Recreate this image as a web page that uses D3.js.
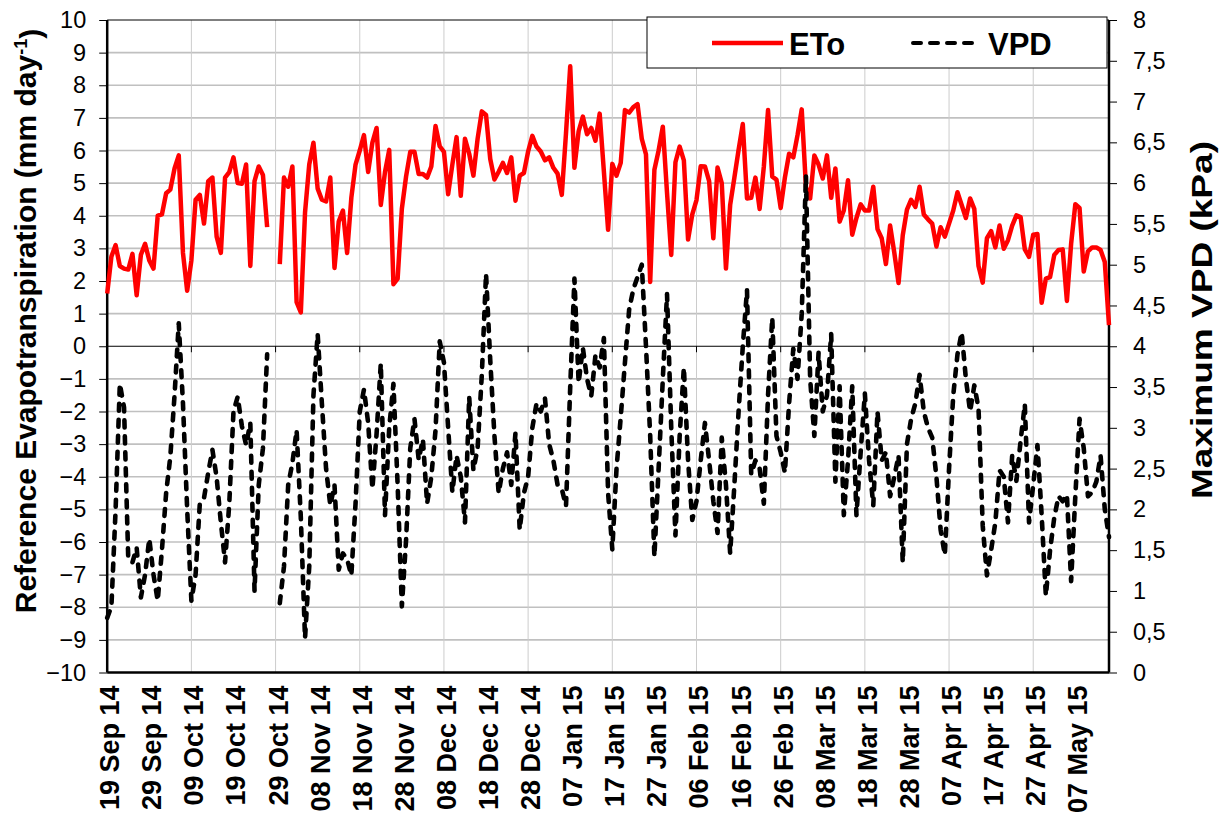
<!DOCTYPE html>
<html>
<head>
<meta charset="utf-8">
<script src="https://d3js.org/d3.v7.min.js"></script>
<style>
  body { margin: 0; background: #fff; }
  text { font-family: Arial, "Liberation Sans", sans-serif; }
</style>
</head>
<body>
<div id="chart"></div>
<script>
// daily series, first day 19 Sep 2014
var startDate = "19 Sep 14";

var eto = [
  1.62, 2.75, 3.1, 2.46, 2.38, 2.35, 2.83, 1.56, 2.8, 3.14,
  2.63, 2.38, 4.0, 4.04, 4.69, 4.8, 5.45, 5.85, 2.86, 1.7,
  2.63, 4.49, 4.64, 3.76, 5.06, 5.17, 3.36, 2.86, 5.17, 5.34,
  5.79, 5.0, 4.98, 5.57, 2.46, 5.06, 5.51, 5.25, 3.65, null,
  null, 2.52, 5.17, 4.89, 5.51, 1.35, 1.04, 4.1, 5.57, 6.24,
  4.83, 4.49, 4.44, 5.17, 2.4, 3.82, 4.16, 2.86, 4.55, 5.57,
  6.0, 6.47, 5.34, 6.24, 6.69, 4.33, 5.34, 6.02, 1.9, 2.07,
  4.21, 5.2, 5.96, 5.96, 5.28, 5.28, 5.17, 5.51, 6.75, 6.13,
  5.96, 4.66, 5.57, 6.41, 4.61, 6.36, 5.9, 5.23, 6.36, 7.2,
  7.09, 5.74, 5.11, 5.35, 5.62, 5.31, 5.79, 4.46, 5.23, 5.31,
  5.97, 6.45, 6.12, 5.97, 5.7, 5.79, 5.47, 5.29, 4.64, 6.53,
  8.58, 5.47, 6.59, 7.04, 6.5, 6.69, 6.3, 7.13, 5.35, 3.57,
  5.59, 5.23, 5.62, 7.24, 7.16, 7.33, 7.42, 6.36, 5.88, 1.97,
  5.41, 6.0, 6.73, 4.7, 2.8, 5.64, 6.12, 5.7, 3.27, 4.04,
  4.48, 5.52, 5.51, 5.06, 3.31, 5.48, 5.0, 2.38, 4.33, 5.17,
  6.02, 6.81, 4.53, 4.55, 5.17, 4.21, 5.51, 7.24, 5.2, 5.11,
  4.24, 5.17, 5.9, 5.79, 6.47, 7.26, 4.89, 4.53, 5.85, 5.57,
  5.14, 5.85, 4.55, 5.45, 3.82, 4.16, 5.09, 3.42, 3.93, 4.35,
  4.16, 4.16, 4.89, 3.59, 3.31, 2.52, 3.7, 2.86, 1.94, 3.4,
  4.19, 4.49, 4.27, 4.89, 4.04, 3.89, 3.76, 3.06, 3.65, 3.36,
  3.76, 4.16, 4.72, 4.33, 3.93, 4.53, 4.21, 2.46, 1.95, 3.31,
  3.53, 3.03, 3.7, 2.99, 3.25, 3.7, 4.01, 3.96, 2.97, 2.74,
  3.42, 3.44, 1.33, 2.07, 2.12, 2.8, 2.95, 2.97, 1.39, 3.14,
  4.35, 4.24, 2.29, 2.91, 3.03, 3.03, 2.95, 2.58, 0.65
];

var vpd = [
  0.67, 0.81, 2.0, 3.54, 3.25, 1.4, 1.35, 1.53, 0.92, 1.2,
  1.64, 1.2, 0.88, 1.5, 2.2, 2.65, 3.4, 4.28, 3.3, 2.0,
  0.88, 1.2, 2.07, 2.14, 2.45, 2.73, 2.39, 1.84, 1.35, 2.07,
  3.2, 3.38, 3.02, 2.79, 3.06, 1.0, 2.3, 2.75, 3.9, null,
  null, 0.85, 1.3, 2.3, 2.57, 2.97, 1.9, 0.42, 1.3, 3.4,
  4.15, 3.3, 2.5, 2.05, 2.3, 1.26, 1.46, 1.39, 1.19, 2.07,
  3.2, 3.47, 3.06, 2.25, 2.93, 3.79, 1.93, 3.0, 3.54, 2.3,
  0.81, 1.62, 2.75, 3.11, 2.61, 2.86, 2.07, 2.4, 2.97, 4.06,
  3.8, 3.0, 2.21, 2.66, 2.4, 1.84, 3.38, 2.48, 2.75, 3.65,
  4.89, 3.83, 2.9, 2.2, 2.5, 2.7, 2.3, 2.94, 1.75, 2.2,
  2.4, 3.0, 3.3, 3.2, 3.36, 2.8, 2.6, 2.3, 2.25, 2.04,
  3.5, 4.83, 3.55, 3.98, 3.6, 3.39, 3.89, 3.74, 4.1, 2.2,
  1.51, 2.5, 3.13, 3.8, 4.45, 4.7, 4.85, 5.0, 4.0, 2.9,
  1.42, 2.5, 3.6, 4.64, 3.0, 1.68, 2.9, 3.74, 2.6, 1.87,
  2.1, 2.6, 3.06, 2.6, 2.1, 1.71, 2.88, 2.3, 1.46, 2.3,
  3.2, 4.0, 4.69, 2.43, 2.6, 2.5, 2.07, 3.4, 4.35, 2.9,
  2.7, 2.45, 3.3, 3.97, 3.6, 4.4, 6.09, 3.6, 2.9, 3.92,
  3.2, 3.4, 4.15, 2.34, 3.51, 1.93, 2.6, 3.51, 1.93, 2.7,
  3.42, 2.6, 2.05, 3.2, 2.6, 2.7, 2.16, 2.4, 2.66, 1.35,
  2.8, 3.11, 3.3, 3.65, 3.2, 3.0, 2.88, 2.4, 1.75, 1.44,
  2.5, 3.4, 3.9, 4.17, 3.6, 3.2, 3.52, 3.24, 1.8, 1.19,
  1.5, 1.84, 2.48, 2.4, 1.84, 2.66, 2.35, 2.84, 3.29, 1.84,
  2.3, 2.79, 1.93, 0.94, 1.5, 1.9, 2.16, 2.1, 2.18, 1.12,
  2.16, 3.11, 2.75, 2.16, 2.21, 2.34, 2.66, 2.0, 1.66
];

var xTickLabels = ["19 Sep 14", "29 Sep 14", "09 Oct 14", "19 Oct 14", "29 Oct 14",
  "08 Nov 14", "18 Nov 14", "28 Nov 14", "08 Dec 14", "18 Dec 14", "28 Dec 14",
  "07 Jan 15", "17 Jan 15", "27 Jan 15", "06 Feb 15", "16 Feb 15", "26 Feb 15",
  "08 Mar 15", "18 Mar 15", "28 Mar 15", "07 Apr 15", "17 Apr 15", "27 Apr 15",
  "07 May 15"];
var leftTicks = [-10, -9, -8, -7, -6, -5, -4, -3, -2, -1, 0, 1, 2, 3, 4, 5, 6, 7, 8, 9, 10];
var rightTicks = [0, 0.5, 1, 1.5, 2, 2.5, 3, 3.5, 4, 4.5, 5, 5.5, 6, 6.5, 7, 7.5, 8];

var parseDate = d3.timeParse("%d %b %y");
var fmtDate = d3.timeFormat("%d %b %y");
var day0 = parseDate(startDate);

var etoData = eto.map(function(v, i) { return {date: d3.timeDay.offset(day0, i), value: v}; });
var vpdData = vpd.map(function(v, i) { return {date: d3.timeDay.offset(day0, i), value: v}; });
var tickDates = xTickLabels.map(parseDate);
// every second label carries a vertical gridline
var gridDates = tickDates.filter(function(d, i) { return i % 2 == 0; });

var margin = {top: 20, right: 117, bottom: 143.5, left: 107.2},
    width = 1226 - margin.left - margin.right,
    height = 816 - margin.top - margin.bottom;

var svg = d3.select("#chart")
  .append("svg")
    .attr("width", 1226)
    .attr("height", 816)
    .style("background", "#fff")
  .append("g")
    .attr("transform", "translate(" + margin.left + "," + margin.top + ")");

var x = d3.scaleTime()
  .domain([day0, d3.timeDay.offset(day0, eto.length - 1)])
  .range([0, width]);

var yL = d3.scaleLinear().domain([-10, 10]).range([height, 0]);
var yR = d3.scaleLinear().domain([0, 8]).range([height, 0]);

// horizontal gridlines
svg.selectAll(".hgrid")
  .data(leftTicks.filter(function(d) { return d != -10 && d != 10 && d != 0; }))
  .enter().append("line")
    .attr("class", "hgrid")
    .attr("x1", 0).attr("x2", width)
    .attr("y1", function(d) { return yL(d); })
    .attr("y2", function(d) { return yL(d); })
    .attr("stroke", "#c0c0c0")
    .attr("stroke-width", 1.6);

// vertical gridlines
svg.selectAll(".vgrid")
  .data(gridDates.slice(1))
  .enter().append("line")
    .attr("class", "vgrid")
    .attr("x1", function(d) { return x(d); })
    .attr("x2", function(d) { return x(d); })
    .attr("y1", 0).attr("y2", height)
    .attr("stroke", "#cccccc")
    .attr("stroke-width", 1);

// top border
svg.append("line")
  .attr("x1", 0).attr("x2", width)
  .attr("y1", 0).attr("y2", 0)
  .attr("stroke", "#000").attr("stroke-width", 1);

// category axis crossing at zero
svg.append("line")
  .attr("x1", 0).attr("x2", width)
  .attr("y1", yL(0)).attr("y2", yL(0))
  .attr("stroke", "#000").attr("stroke-width", 1);
svg.selectAll(".ztick")
  .data(gridDates.slice(1))
  .enter().append("line")
    .attr("x1", function(d) { return x(d); })
    .attr("x2", function(d) { return x(d); })
    .attr("y1", yL(0)).attr("y2", yL(0) + 6)
    .attr("stroke", "#000").attr("stroke-width", 1);

// left axis
var leftAxis = svg.append("g")
  .call(d3.axisLeft(yL).tickValues(leftTicks).tickSize(8).tickPadding(13));
leftAxis.select(".domain").remove();
leftAxis.selectAll("line").attr("stroke", "#000").attr("stroke-width", 1);
leftAxis.selectAll("text")
  .style("font-size", "23.5px")
  .attr("fill", "#000");

// right axis
var rightAxis = svg.append("g")
  .attr("transform", "translate(" + width + ",0)")
  .call(d3.axisRight(yR).tickValues(rightTicks).tickSize(8).tickPadding(16)
    .tickFormat(function(d) { return String(d).replace(".", ","); }));
rightAxis.select(".domain").remove();
rightAxis.selectAll("line").attr("stroke", "#000").attr("stroke-width", 1);
rightAxis.selectAll("text")
  .style("font-size", "23.5px")
  .attr("fill", "#000");

// bottom date labels
var bottomAxis = svg.append("g")
  .attr("transform", "translate(0," + height + ")")
  .call(d3.axisBottom(x).tickValues(tickDates).tickSize(0).tickFormat(fmtDate));
bottomAxis.select(".domain").remove();
bottomAxis.selectAll("text")
  .attr("transform", "rotate(-90)")
  .attr("text-anchor", "end")
  .attr("x", -13)
  .attr("y", 2)
  .attr("dy", "0.35em")
  .style("font-size", "27px")
  .style("font-weight", "bold")
  .attr("fill", "#000");

// frame: left, right, bottom
svg.append("line").attr("x1", 0).attr("x2", 0).attr("y1", 0).attr("y2", height)
  .attr("stroke", "#000").attr("stroke-width", 2.5);
svg.append("line").attr("x1", width).attr("x2", width).attr("y1", 0).attr("y2", height)
  .attr("stroke", "#000").attr("stroke-width", 2.5);
svg.append("line").attr("x1", 0).attr("x2", width).attr("y1", height).attr("y2", height)
  .attr("stroke", "#000").attr("stroke-width", 2.5);

// lines
var etoLine = d3.line()
  .defined(function(d) { return d.value != null; })
  .x(function(d) { return x(d.date); })
  .y(function(d) { return yL(d.value); });

var vpdLine = d3.line()
  .defined(function(d) { return d.value != null; })
  .x(function(d) { return x(d.date); })
  .y(function(d) { return yR(d.value); });

svg.append("path")
  .datum(etoData)
  .attr("d", etoLine)
  .attr("fill", "none")
  .attr("stroke", "#ff0000")
  .attr("stroke-width", 4.5)
  .attr("stroke-linejoin", "round");

svg.append("path")
  .datum(vpdData)
  .attr("d", vpdLine)
  .attr("fill", "none")
  .attr("stroke", "#000")
  .attr("stroke-width", 4.6)
  .attr("stroke-linecap", "round")
  .attr("stroke-linejoin", "round")
  .attr("stroke-dasharray", "7,9");

// axis titles
svg.append("text")
  .attr("transform", "translate(" + (25 - margin.left) + "," + (321 - margin.top) + ") rotate(-90)")
  .attr("text-anchor", "middle")
  .attr("dy", "0.35em")
  .style("font-size", "30px")
  .style("font-weight", "bold")
  .text("Reference Evapotranspiration  (mm day")
  .append("tspan")
    .attr("dy", "-0.45em")
    .style("font-size", "18px")
    .text("-1")
  .select(function() { return this.parentNode; })
  .append("tspan")
    .attr("dy", "0.45em")
    .text(")");

svg.append("text")
  .attr("transform", "translate(" + (1201 - margin.left) + "," + (320 - margin.top) + ") rotate(-90)")
  .attr("text-anchor", "middle")
  .attr("dy", "0.35em")
  .attr("textLength", 358)
  .attr("lengthAdjust", "spacingAndGlyphs")
  .style("font-size", "30px")
  .style("font-weight", "bold")
  .text("Maximum VPD (kPa)");

// legend
var legend = svg.append("g")
  .attr("transform", "translate(" + (647 - margin.left) + "," + (17 - margin.top) + ")");
legend.append("rect")
  .attr("width", 460).attr("height", 51)
  .attr("fill", "#fff").attr("stroke", "#000").attr("stroke-width", 1);
legend.append("line")
  .attr("x1", 65).attr("x2", 136).attr("y1", 26).attr("y2", 26)
  .attr("stroke", "#ff0000").attr("stroke-width", 4.5);
legend.append("text")
  .attr("x", 142).attr("y", 38)
  .style("font-size", "31px").style("font-weight", "bold")
  .text("ETo");
legend.append("line")
  .attr("x1", 266).attr("x2", 334).attr("y1", 26).attr("y2", 26)
  .attr("stroke", "#000").attr("stroke-width", 4)
  .attr("stroke-linecap", "round")
  .attr("stroke-dasharray", "8,9");
legend.append("text")
  .attr("x", 341).attr("y", 38)
  .style("font-size", "31px").style("font-weight", "bold")
  .text("VPD");
</script>
</body>
</html>
